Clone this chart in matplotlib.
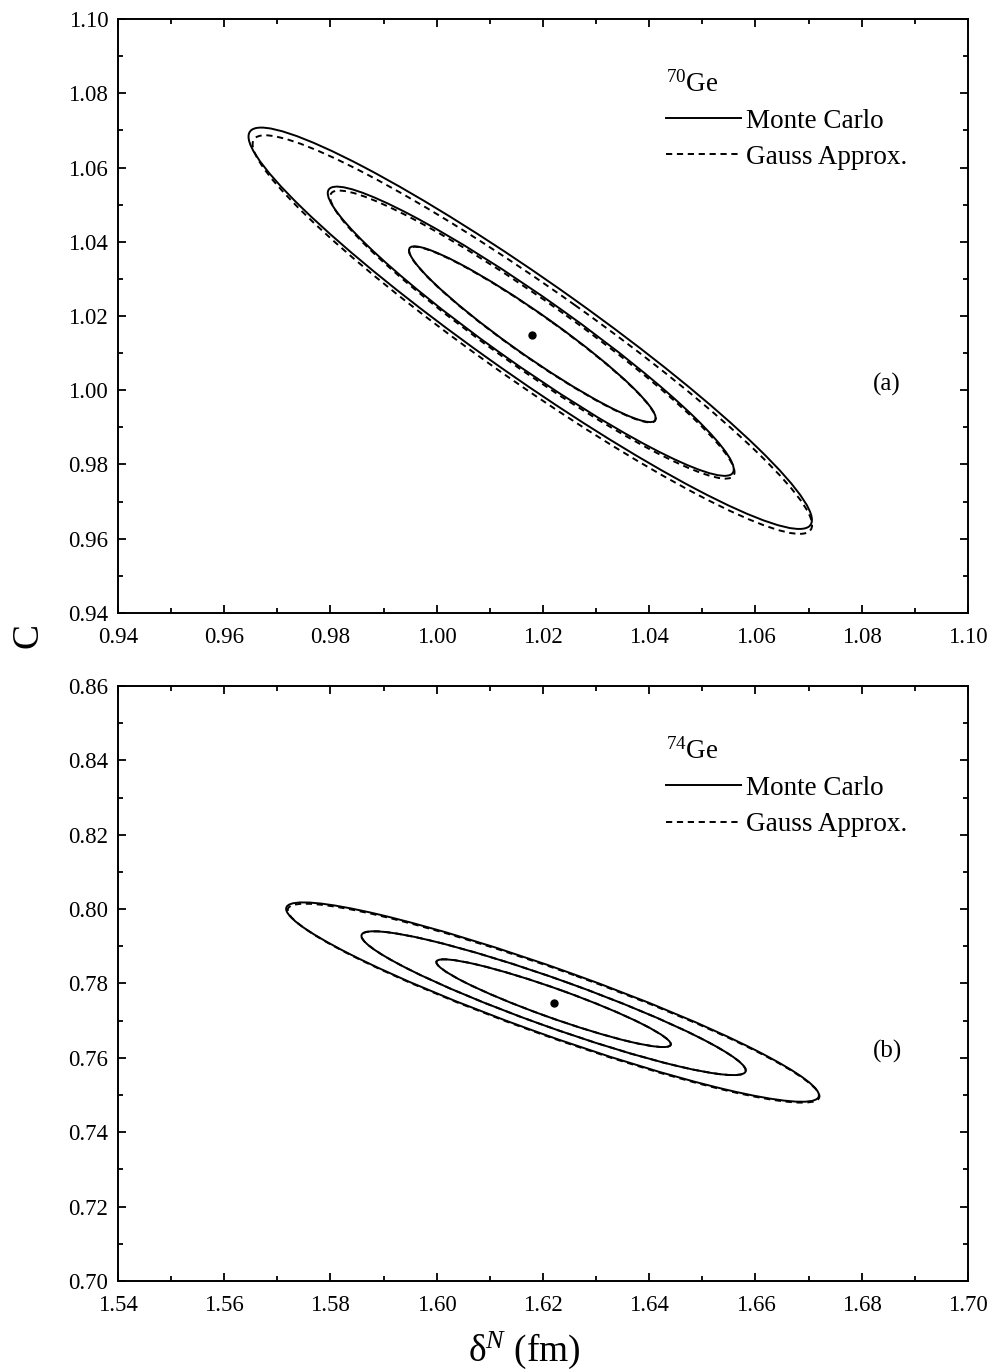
import numpy as np
import matplotlib.pyplot as plt
from matplotlib.patches import Ellipse
from matplotlib.lines import Line2D
from matplotlib.ticker import MultipleLocator

plt.rcParams['font.family'] = ['Liberation Serif', 'DejaVu Serif']
plt.rcParams['mathtext.fontset'] = 'custom'
plt.rcParams['mathtext.rm'] = 'Liberation Serif'
plt.rcParams['mathtext.it'] = 'Liberation Serif:italic'

# confidence levels (delta chi^2 for two parameters: 68.3%, 95.4%, 99.7%)
delta_chi2 = [2.30, 6.18, 11.83]

# 70Ge: best fit (delta_N, C), widths and correlation of the Gauss approximation
ge70_best = (1.018, 1.015)
ge70_sigma = (0.01531, 0.01561)
ge70_rho = -0.955
# Monte Carlo contours: centre offsets and size factor per level
ge70_mc_dx = [0.0, -0.0003, -0.0004]
ge70_mc_dy = [0.0001, 0.0009, 0.0017]
ge70_mc_scale = [1.000, 1.004, 1.007]

# 74Ge
ge74_best = (1.622, 0.7747)
ge74_sigma = (0.01455, 0.00778)
ge74_rho = -0.935
ge74_mc_dx = [0.0, 0.0, -0.0002]
ge74_mc_dy = [0.0, 0.0, 0.0003]
ge74_mc_scale = [1.000, 1.000, 1.002]

panels = [
    dict(name=r'$^{70}$Ge', tag='(a)', best=ge70_best, sigma=ge70_sigma, rho=ge70_rho,
         mc_dx=ge70_mc_dx, mc_dy=ge70_mc_dy, mc_scale=ge70_mc_scale,
         xlim=(0.94, 1.10), ylim=(0.94, 1.10)),
    dict(name=r'$^{74}$Ge', tag='(b)', best=ge74_best, sigma=ge74_sigma, rho=ge74_rho,
         mc_dx=ge74_mc_dx, mc_dy=ge74_mc_dy, mc_scale=ge74_mc_scale,
         xlim=(1.54, 1.70), ylim=(0.70, 0.86)),
]

LW = 1.4
DASH = (0, (3.2, 2.4))


def contour_ellipse(center, sigma, rho, chi2, scale=1.0, **kw):
    sx, sy = sigma
    cov = chi2 * np.array([[sx * sx, rho * sx * sy], [rho * sx * sy, sy * sy]])
    vals, vecs = np.linalg.eigh(cov)
    angle = np.degrees(np.arctan2(vecs[1, 1], vecs[0, 1]))
    return Ellipse(center, 2 * scale * np.sqrt(vals[1]), 2 * scale * np.sqrt(vals[0]),
                   angle=angle, fill=False, **kw)


fig = plt.figure(figsize=(9.93, 13.71), dpi=100)
ax_top = fig.add_axes([0.1188, 0.5529, 0.856, 0.4332])
ax_bot = fig.add_axes([0.1188, 0.0657, 0.856, 0.4339])

for ax, p in zip([ax_top, ax_bot], panels):
    cx, cy = p['best']
    for i, chi2 in enumerate(delta_chi2):
        ax.add_patch(contour_ellipse((cx, cy), p['sigma'], p['rho'], chi2,
                                     color='black', lw=LW, linestyle=DASH))
        ax.add_patch(contour_ellipse((cx + p['mc_dx'][i], cy + p['mc_dy'][i]),
                                     p['sigma'], p['rho'], chi2, scale=p['mc_scale'][i],
                                     color='black', lw=LW))
    ax.plot([cx], [cy], 'o', color='black', markersize=5)

    ax.set_xlim(*p['xlim'])
    ax.set_ylim(*p['ylim'])
    ax.xaxis.set_major_locator(MultipleLocator(0.02))
    ax.xaxis.set_minor_locator(MultipleLocator(0.01))
    ax.yaxis.set_major_locator(MultipleLocator(0.02))
    ax.yaxis.set_minor_locator(MultipleLocator(0.01))
    ax.xaxis.set_major_formatter(lambda v, pos: f'{v:.2f}')
    ax.yaxis.set_major_formatter(lambda v, pos: f'{v:.2f}')
    ax.tick_params(which='both', direction='in', top=True, right=True, width=1.3)
    ax.tick_params(which='major', length=6, labelsize=16.5)
    ax.tick_params(axis='x', which='major', pad=10)
    ax.tick_params(axis='y', which='major', pad=7)
    ax.tick_params(which='minor', length=3.5)
    for s in ax.spines.values():
        s.set_linewidth(1.4)

    handles = [Line2D([], [], color='black', lw=LW),
               Line2D([], [], color='black', lw=LW, linestyle=DASH)]
    leg = ax.legend(handles, ['Monte Carlo', 'Gauss Approx.'], title=p['name'],
                    loc='upper left', bbox_to_anchor=(0.645, 0.913), frameon=False,
                    fontsize=19.5, title_fontsize=19.5, handlelength=2.75,
                    handletextpad=0.2, labelspacing=0.42, borderpad=0, borderaxespad=0)
    leg._legend_box.align = 'left'
    ax.text(0.905, 0.385, p['tag'], transform=ax.transAxes, fontsize=18,
            ha='center', va='center')

fig.text(0.028, 1 - 635 / 1371, 'C', rotation=90, fontsize=27, ha='center', va='center')
fig.text(0.528, 1 - 1350 / 1371, 'δ$^{N}$ (fm)', fontsize=27, ha='center', va='center')

fig.savefig('out.png', dpi=100)
